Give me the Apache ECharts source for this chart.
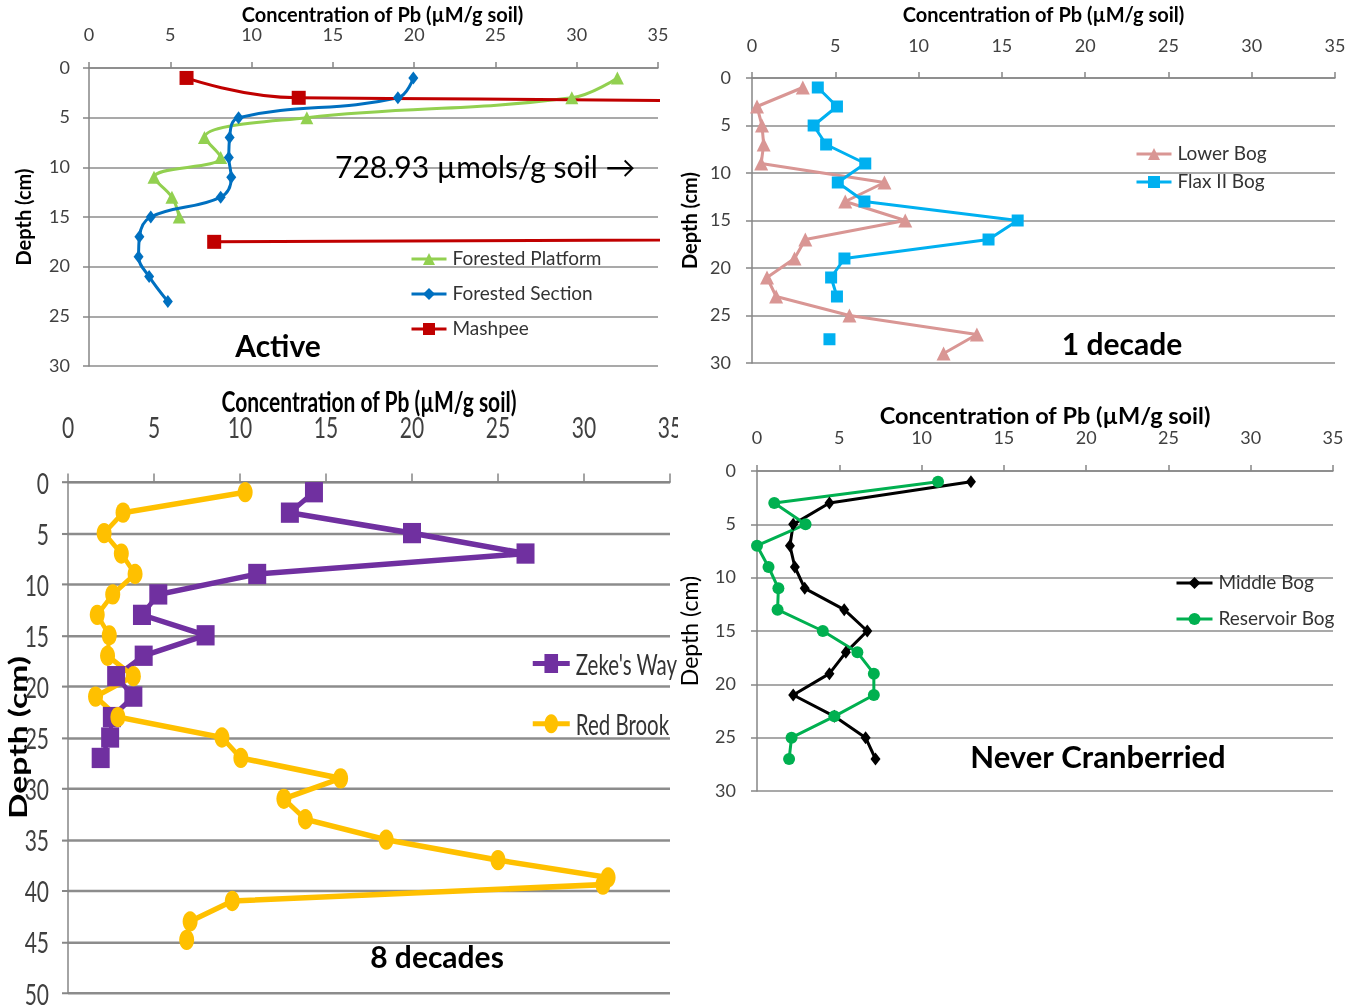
<!DOCTYPE html>
<html><head><meta charset="utf-8">
<script src="https://cdn.jsdelivr.net/npm/echarts@6/dist/echarts.min.js"></script>
<style>
html,body{margin:0;padding:0;background:#fff}
#wrap{position:relative;width:1362px;height:1006px;overflow:hidden}
#c{position:absolute;left:0;top:0;width:1362px;height:1006px}
#p3{position:absolute;left:0;top:380px;width:678px;height:447px;overflow:hidden;transform:scaleY(1.4);transform-origin:0 0;z-index:2}
</style>
</head><body><div id="wrap"><div id="c"></div><div id="p3"></div></div>
<script>
// ---------- DATA ----------
const concMin = 0, concMax = 35, concStep = 5;   // concentration ticks 0..35 by 5
const depthStep = 5;
const depthMaxActive = 30, depthMaxDecade = 30, depthMaxEight = 50, depthMaxNever = 30;

// Panel "Active"
const activeDepthPlatform = [1, 3, 5, 7, 9, 11, 13, 15];
const activePlatform      = [32.5, 29.7, 13.4, 7.1, 8.1, 4.0, 5.1, 5.55];
const activeDepthSection  = [1, 3, 5, 7, 9, 11, 13, 15, 17, 19, 21, 23.5];
const activeSection       = [19.95, 19.0, 9.2, 8.65, 8.6, 8.75, 8.1, 3.8, 3.1, 3.05, 3.7, 4.85];
const activeDepthMashpee  = [1, 3, 10, 17.5];
const activeMashpee       = [6.0, 12.9, 728.93, 7.7];

// Panel "1 decade"
const decadeDepthLower = [1, 3, 5, 7, 9, 11, 13, 15, 17, 19, 21, 23, 25, 27, 29];
const decadeLowerBog   = [3.05, 0.3, 0.6, 0.7, 0.55, 7.95, 5.6, 9.2, 3.2, 2.55, 0.9, 1.45, 5.85, 13.5, 11.5];
const decadeDepthFlax  = [1, 3, 5, 7, 9, 11, 13, 15, 17, 19, 21, 23, 25, 27.5];
const decadeFlaxBog    = [3.95, 5.1, 3.7, 4.45, 6.8, 5.15, 6.75, 15.95, 14.2, 5.55, 4.75, 5.1, null, 4.65];

// Panel "8 decades"
const eightDepthZeke = [1, 3, 5, 7, 9, 11, 13, 15, 17, 19, 21, 23, 25, 27];
const eightZekesWay  = [14.3, 12.9, 20.0, 26.6, 11.0, 5.25, 4.3, 8.0, 4.4, 2.8, 3.8, 2.55, 2.45, 1.9];
const eightDepthRed  = [1, 3, 5, 7, 9, 11, 13, 15, 17, 19, 21, 23, 25, 27, 29, 31, 33, 35, 37, 38.7, 39.4, 41, 43, 44.8];
const eightRedBrook  = [10.3, 3.2, 2.1, 3.1, 3.9, 2.6, 1.7, 2.4, 2.3, 3.8, 1.6, 2.9, 8.95, 10.05, 15.85, 12.55, 13.8, 18.5, 25.0, 31.4, 31.1, 9.55, 7.1, 6.9];

// Panel "Never Cranberried"
const neverDepth     = [1, 3, 5, 7, 9, 11, 13, 15, 17, 19, 21, 23, 25, 27];
const neverMiddleBog = [13.0, 4.4, 2.2, 2.0, 2.3, 2.9, 5.3, 6.7, 5.4, 4.4, 2.2, 4.7, 6.6, 7.2];
const neverReservoir = [11.0, 1.05, 2.95, 0.0, 0.7, 1.3, 1.25, 4.0, 6.1, 7.1, 7.1, 4.7, 2.1, 1.95];

// ---------- CHART ----------
const CAL = 'Lato, "Open Sans", sans-serif';
const AX = '#868686';
const LBL = '#404040';
const xTitle = 'Concentration of Pb (\u00b5M/g soil)';

function pairs(vals, depths) { return vals.map((v, i) => [v, depths[i]]); }

function xAxis(gi, c) {
  return {
    gridIndex: gi, type: 'value', position: 'top', min: concMin, max: concMax, interval: concStep,
    name: xTitle, nameLocation: 'middle', nameGap: c.tgap, nameMoveOverlap: c.move !== false,
    nameTextStyle: { fontFamily: CAL, fontSize: c.tsize, fontWeight: 'bold', color: '#000', padding: c.tpad || 0 },
    axisLine: { show: true, lineStyle: { color: AX, width: 1.5 } },
    axisTick: { show: true, inside: false, length: 6, lineStyle: { color: AX, width: 1.5 } },
    axisLabel: { margin: c.xmargin, fontFamily: CAL, fontSize: c.xsize, color: LBL },
    splitLine: { show: false }
  };
}
function yAxis(gi, max, c) {
  return {
    gridIndex: gi, type: 'value', inverse: true, min: 0, max: max, interval: depthStep,
    name: 'Depth (cm)', nameLocation: 'middle', nameGap: c.ngap, nameMoveOverlap: c.move !== false,
    nameTextStyle: { fontFamily: CAL, fontSize: c.nsize, fontWeight: c.nweight, color: '#000' },
    axisLine: { show: true, lineStyle: { color: AX, width: 1.5 } },
    axisTick: { show: true, inside: false, length: 6, lineStyle: { color: AX, width: 1.5 } },
    axisLabel: { margin: c.ymargin, fontFamily: CAL, fontSize: c.ysize, color: LBL },
    splitLine: { show: true, lineStyle: { color: '#8c8c8c', width: c.split || 1.5 } }
  };
}
function line(name, gi, vals, depths, color, symbol, size, width, smooth) {
  return {
    name, type: 'line', xAxisIndex: gi, yAxisIndex: gi,
    data: pairs(vals, depths), symbol, symbolSize: size, smooth: smooth || false,
    connectNulls: false, clip: true, animation: false,
    lineStyle: { color, width }, itemStyle: { color, borderWidth: 0 },
    emphasis: { disabled: true }
  };
}
function legend(names, left, top, gap, size, lh, iw, ih, lw) {
  return {
    data: names, orient: 'vertical', left, top, itemGap: gap, padding: 0,
    itemWidth: iw, itemHeight: ih, selectedMode: false,
    lineStyle: { width: lw },
    textStyle: { fontFamily: CAL, fontSize: size, color: '#333', lineHeight: lh, padding: [0, 0, 0, 1] }
  };
}
function txt(text, x, y, size, weight, align) {
  return { type: 'text', x, y, z: 100, silent: true,
    style: { text, font: weight + ' ' + size + 'px ' + CAL, fill: '#000', align: align || 'center', verticalAlign: 'middle' } };
}

// ---- main instance: panels Active, 1 decade, Never Cranberried ----
const cA = { tsize: 20, tgap: 35, tpad: [0, 0, 0, 18], xsize: 18, xmargin: 24, ysize: 18, ymargin: 19, nsize: 20, nweight: 'bold', ngap: 54 };
const cD = { tsize: 20, tgap: 52, xsize: 18, xmargin: 23, ysize: 18, ymargin: 21, nsize: 20, nweight: 'bold', ngap: 51 };
const cN = { tsize: 23.5, tgap: 39, xsize: 18, xmargin: 24, ysize: 18, ymargin: 21, nsize: 23, nweight: 'normal', ngap: 55 };

const main = echarts.init(document.getElementById('c'), null, { renderer: 'canvas' });
main.setOption({
  animation: false,
  backgroundColor: '#ffffff',
  grid: [
    { left: 89,  top: 68,  width: 569, height: 298, outerBoundsMode: 'none' },
    { left: 752, top: 78,  width: 583, height: 285, outerBoundsMode: 'none' },
    { left: 757, top: 471, width: 576, height: 320, outerBoundsMode: 'none' }
  ],
  xAxis: [xAxis(0, cA), xAxis(1, cD), xAxis(2, cN)],
  yAxis: [yAxis(0, depthMaxActive, cA), yAxis(1, depthMaxDecade, cD), yAxis(2, depthMaxNever, cN)],
  legend: [
    legend(['Forested Platform', 'Forested Section', 'Mashpee'], 410, 249, 15, 19, 20, 35, 15, 3),
    legend(['Lower Bog', 'Flax II Bog'], 1135, 144, 8, 19, 20, 35, 15, 3),
    legend(['Middle Bog', 'Reservoir Bog'], 1175, 573, 16, 19, 20, 36, 15, 3)
  ],
  series: [
    line('Forested Platform', 0, activePlatform, activeDepthPlatform, '#92D050', 'triangle', 13, 3, 0.4),
    line('Forested Section', 0, activeSection, activeDepthSection, '#0070C0', 'diamond', [10, 13], 3, 0.4),
    line('Mashpee', 0, activeMashpee, activeDepthMashpee, '#C00000', 'rect', 14, 3, 0.5),
    line('Lower Bog', 1, decadeLowerBog, decadeDepthLower, '#D99694', 'triangle', 14, 3),
    line('Flax II Bog', 1, decadeFlaxBog, decadeDepthFlax, '#00B0F0', 'rect', 12, 3),
    line('Middle Bog', 2, neverMiddleBog, neverDepth, '#000000', 'diamond', [10, 13], 3),
    line('Reservoir Bog', 2, neverReservoir, neverDepth, '#00B050', 'circle', 12, 3)
  ],
  graphic: [
    txt('Active', 278, 347, 30, 'bold'),
    txt('728.93 \u00b5mols/g soil \u2192', 335, 168, 30, 'normal', 'left'),
    txt('1 decade', 1122, 345, 30, 'bold'),
    txt('8 decades', 437, 958, 30, 'bold'),
    txt('Never Cranberried', 1098, 758, 31, 'bold')
  ]
});

// ---- panel "8 decades": drawn in its own box, stretched vertically by CSS like the original ----
const cE = { tsize: 21, tgap: 48, xsize: 21, xmargin: 29, ysize: 21, ymargin: 19, nsize: 24, nweight: 'bold', ngap: 38, split: 1.8, move: false };
const eight = echarts.init(document.getElementById('p3'), null, { renderer: 'svg' });
eight.setOption({
  animation: false,
  backgroundColor: 'transparent',
  grid: [{ left: 68, top: 72.86, width: 602, height: 365, outerBoundsMode: 'none' }],
  xAxis: [xAxis(0, cE)],
  yAxis: [yAxis(0, depthMaxEight, cE)],
  legend: [legend(["Zeke's Way", 'Red Brook'], 531, 192, 22, 20.5, 20, 37, 17, 3.5)],
  series: [
    line("Zeke's Way", 0, eightZekesWay, eightDepthZeke, '#7030A0', 'rect', [18, 14.5], 4),
    line('Red Brook', 0, eightRedBrook, eightDepthRed, '#FFC000', 'circle', [15, 14.5], 4)
  ]
});
</script>
</body></html>
